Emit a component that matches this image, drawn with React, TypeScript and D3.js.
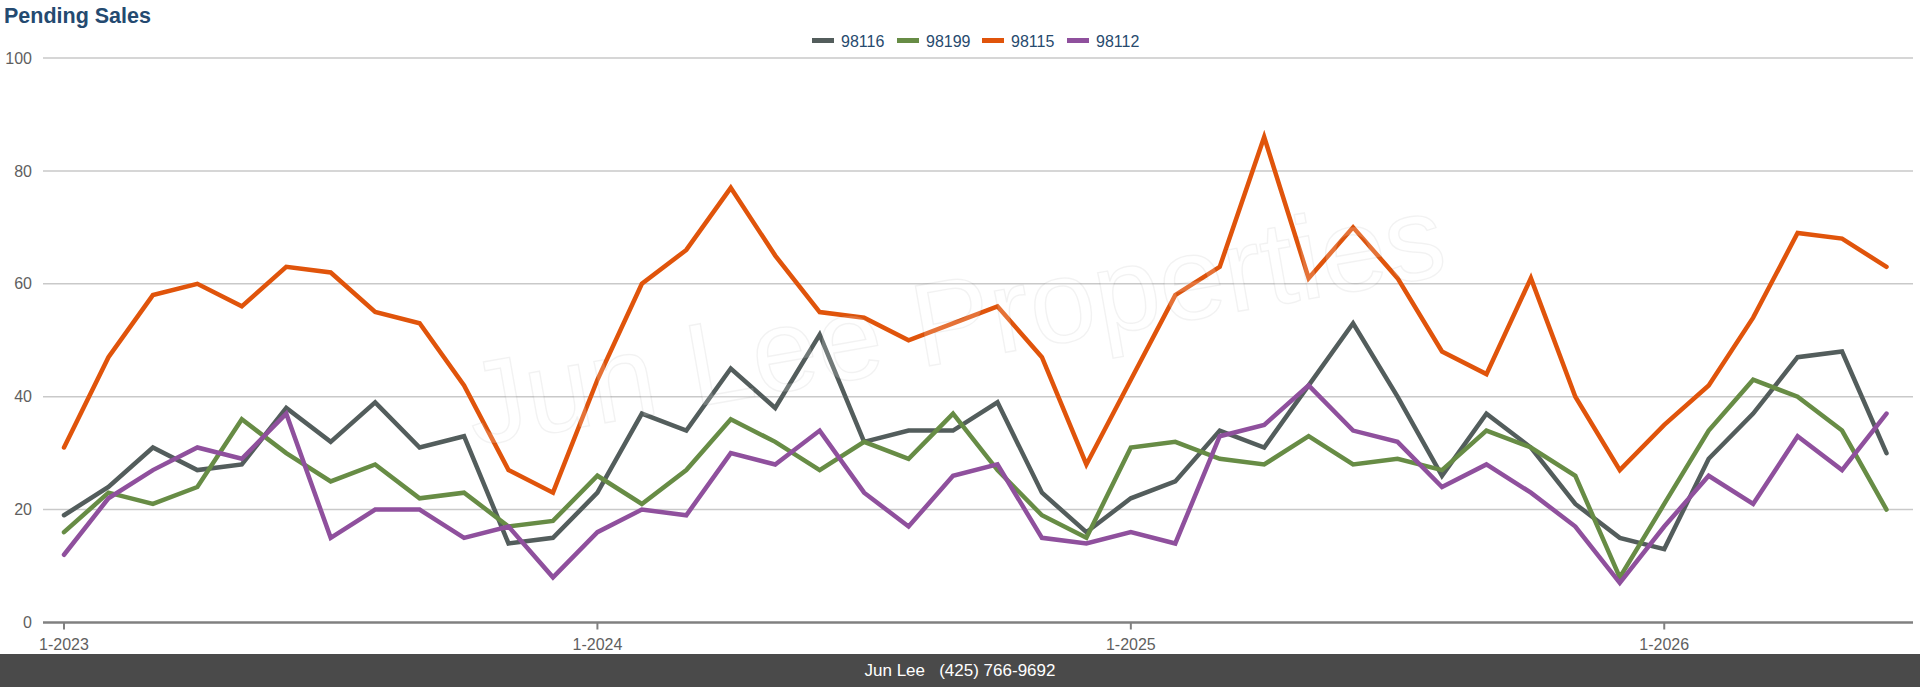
import * as d3 from "d3";
import { useEffect, useRef } from "react";

// month labels, Jan 2023 .. Jun 2026
const months = [
    "1-2023", "2-2023", "3-2023", "4-2023", "5-2023", "6-2023", "7-2023", "8-2023", "9-2023", "10-2023", "11-2023", "12-2023",
    "1-2024", "2-2024", "3-2024", "4-2024", "5-2024", "6-2024", "7-2024", "8-2024", "9-2024", "10-2024", "11-2024", "12-2024",
    "1-2025", "2-2025", "3-2025", "4-2025", "5-2025", "6-2025", "7-2025", "8-2025", "9-2025", "10-2025", "11-2025", "12-2025",
    "1-2026", "2-2026", "3-2026", "4-2026", "5-2026", "6-2026",
];
const tickLabels = ["1-2023", "1-2024", "1-2025", "1-2026"];
const yTicks = [0, 20, 40, 60, 80, 100];

const zips = ["98116", "98199", "98115", "98112"];
const colors = ["#535d5c", "#678c45", "#e0540b", "#8f509d"];

const v98116 = [19, 24, 31, 27, 28, 38, 32, 39, 31, 33, 14, 15, 23, 37, 34, 45, 38, 51, 32, 34, 34, 39, 23, 16, 22, 25, 34, 31, 42, 53, 40, 26, 37, 31, 21, 15, 13, 29, 37, 47, 48, 30];
const v98199 = [16, 23, 21, 24, 36, 30, 25, 28, 22, 23, 17, 18, 26, 21, 27, 36, 32, 27, 32, 29, 37, 27, 19, 15, 31, 32, 29, 28, 33, 28, 29, 27, 34, 31, 26, 8, 21, 34, 43, 40, 34, 20];
const v98115 = [31, 47, 58, 60, 56, 63, 62, 55, 53, 42, 27, 23, 43, 60, 66, 77, 65, 55, 54, 50, 53, 56, 47, 28, 43, 58, 63, 86, 61, 70, 61, 48, 44, 61, 40, 27, 35, 42, 54, 69, 68, 63];
const v98112 = [12, 22, 27, 31, 29, 37, 15, 20, 20, 15, 17, 8, 16, 20, 19, 30, 28, 34, 23, 17, 26, 28, 15, 14, 16, 14, 33, 35, 42, 34, 32, 24, 28, 23, 17, 7, 17, 26, 21, 33, 27, 37];

const width = 1920;
const height = 687;

export default function App() {
    let ref = useRef<SVGSVGElement | null>(null);

    useEffect(() => {
        const svg = d3.select(ref.current);
        svg.selectAll("*").remove();

        const font = "'Liberation Sans', Arial, Helvetica, sans-serif";
        const series = [v98116, v98199, v98115, v98112];

        const x = d3.scalePoint<string>().domain(months).range([64, 1886.5]);
        const y = d3.scaleLinear().domain([0, 100]).range([622.5, 58]);
        const left = 43;
        const right = 1913;

        // title
        svg.append("text")
            .attr("x", 4)
            .attr("y", 22.5)
            .attr("font-family", font)
            .attr("font-weight", "bold")
            .attr("font-size", 21.5)
            .attr("fill", "#244a70")
            .text("Pending Sales");

        // grid
        svg.append("g")
            .selectAll("line")
            .data(yTicks.filter((t) => t > 0))
            .join("line")
            .attr("x1", left)
            .attr("x2", right)
            .attr("y1", (d) => y(d))
            .attr("y2", (d) => y(d))
            .attr("stroke", "#c9c9c9")
            .attr("stroke-width", 1.5);

        // y labels
        svg.append("g")
            .selectAll("text")
            .data(yTicks)
            .join("text")
            .attr("x", 32)
            .attr("y", (d) => y(d))
            .attr("dy", "0.35em")
            .attr("text-anchor", "end")
            .attr("font-family", font)
            .attr("font-size", 16)
            .attr("fill", "#5f5f5f")
            .text((d) => d);

        // x axis
        svg.append("line")
            .attr("x1", left)
            .attr("x2", right)
            .attr("y1", y(0))
            .attr("y2", y(0))
            .attr("stroke", "#808080")
            .attr("stroke-width", 2.5);

        const xt = svg.append("g");
        xt.selectAll("line")
            .data(tickLabels)
            .join("line")
            .attr("x1", (d) => x(d) ?? 0)
            .attr("x2", (d) => x(d) ?? 0)
            .attr("y1", y(0))
            .attr("y2", y(0) + 7)
            .attr("stroke", "#808080")
            .attr("stroke-width", 2);
        xt.selectAll("text")
            .data(tickLabels)
            .join("text")
            .attr("x", (d) => x(d) ?? 0)
            .attr("y", 650)
            .attr("text-anchor", "middle")
            .attr("font-family", font)
            .attr("font-size", 16)
            .attr("fill", "#5f5f5f")
            .text((d) => d);

        // lines
        const line = d3
            .line<number>()
            .x((d, i) => x(months[i]) ?? 0)
            .y((d) => y(d));

        svg.append("g")
            .selectAll("path")
            .data(series)
            .join("path")
            .attr("d", (d) => line(d))
            .attr("fill", "none")
            .attr("stroke", (d, i) => colors[i])
            .attr("stroke-width", 4.5)
            .attr("stroke-linejoin", "miter")
            .attr("stroke-linecap", "round");

        // watermark
        svg.append("text")
            .attr("transform", "translate(962,360) rotate(-10)")
            .attr("text-anchor", "middle")
            .attr("font-family", font)
            .attr("font-size", 118)
            .attr("fill", "rgba(255,255,255,0.18)")
            .attr("stroke", "rgba(0,0,0,0.05)")
            .attr("stroke-width", 1.5)
            .text("Jun Lee Properties");

        // legend
        const lg = svg.append("g")
            .selectAll("g")
            .data(zips)
            .join("g")
            .attr("transform", (d, i) => `translate(${812 + i * 85},0)`);
        lg.append("rect")
            .attr("x", 0)
            .attr("y", 38)
            .attr("width", 22)
            .attr("height", 5)
            .attr("fill", (d, i) => colors[i]);
        lg.append("text")
            .attr("x", 29)
            .attr("y", 46.5)
            .attr("font-family", font)
            .attr("font-size", 16)
            .attr("fill", "#274a6e")
            .text((d) => d);

        // footer
        svg.append("rect")
            .attr("x", 0)
            .attr("y", 654)
            .attr("width", width)
            .attr("height", height - 654)
            .attr("fill", "#4a4a4a");
        svg.append("text")
            .attr("x", 960)
            .attr("y", 676)
            .attr("text-anchor", "middle")
            .attr("font-family", font)
            .attr("font-size", 17)
            .attr("fill", "#ffffff")
            .text("Jun Lee\u00a0\u00a0\u00a0(425) 766-9692");
    }, []);

    return (
        <svg
            ref={ref}
            width={width}
            height={height}
            style={{ position: "absolute", left: 0, top: 0, display: "block", background: "#fff" }}
        />
    );
}
